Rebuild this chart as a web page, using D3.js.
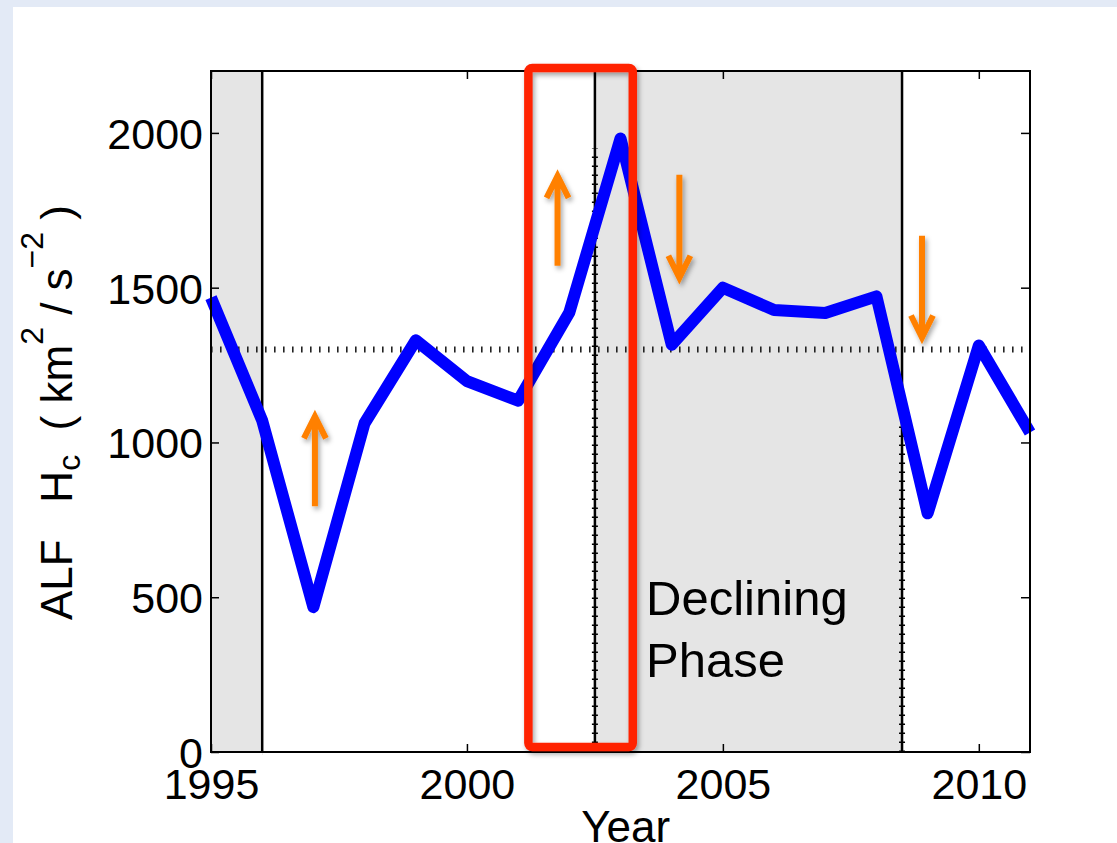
<!DOCTYPE html>
<html>
<head>
<meta charset="utf-8">
<script src="https://cdn.jsdelivr.net/npm/d3@7"></script>
<style>
  body { margin: 0; background: #e3eaf6; }
  svg { display: block; font-family: "Liberation Sans", Arial, Helvetica, sans-serif; }
</style>
</head>
<body>
<svg id="chart" width="1117" height="843"></svg>
<script>
// yearly values
const years = [1995, 1996, 1997, 1998, 1999, 2000, 2001, 2002, 2003, 2004, 2005, 2006, 2007, 2008, 2009, 2010, 2011];
const hcValues = [1468, 1071, 468, 1062, 1330, 1198, 1135, 1420, 1982, 1316, 1500, 1428, 1418, 1472, 771, 1313, 1032];

// shaded phases and the borders drawn between them
const phaseStart = [1995, 2002.5];
const phaseEnd = [1996, 2008.5];
const borderYears = [1996, 2002.5, 2008.5];
const borderDottedTop = [0, 1950, 1060];

const meanLevel = 1300;

const xTicks = [1995, 2000, 2005, 2010];
const yTicks = [0, 500, 1000, 1500, 2000];

// annotation arrows (year, from value, to value)
const arrowYear = [1997.03, 2001.77, 2004.15, 2008.89];
const arrowFrom = [794, 1571, 1865, 1668];
const arrowTo = [1084, 1861, 1532, 1339];

// highlight box in data units
const boxYears = [2001.2, 2003.24];
const boxValues = [16, 2210];

const svg = d3.select('#chart');
const margin = {left: 211, right: 87, top: 71, bottom: 91};
const width = 1117, height = 843;

let x = d3.scaleLinear().domain([1995, 2011]).range([margin.left, width - margin.right]);
let y = d3.scaleLinear().domain([0, 2200]).range([height - margin.bottom, margin.top]);

let defs = svg.append('defs');
let shadow = defs.append('filter').attr('id', 'shadow')
    .attr('x', '-50%').attr('y', '-50%').attr('width', '200%').attr('height', '200%');
shadow.append('feDropShadow')
    .attr('dx', 2).attr('dy', 3).attr('stdDeviation', 2.5)
    .attr('flood-color', '#000').attr('flood-opacity', 0.35);

// white panel
svg.append('rect').attr('x', 13).attr('y', 7)
    .attr('width', width - 13).attr('height', height - 7).attr('fill', '#fff');

let plot = svg.append('g');

plot.selectAll('.phase')
    .data(phaseStart)
    .enter()
    .append('rect')
    .attr('class', 'phase')
    .attr('x', (d) => x(d))
    .attr('width', (d, i) => x(phaseEnd[i]) - x(d))
    .attr('y', y(2200))
    .attr('height', y(0) - y(2200))
    .attr('fill', '#e5e5e5');

// dotted mean line
plot.append('line')
    .attr('x1', x(1995)).attr('x2', x(2011))
    .attr('y1', y(meanLevel)).attr('y2', y(meanLevel))
    .attr('stroke', '#222')
    .attr('stroke-width', 6)
    .attr('stroke-dasharray', '1.6,7.4');

plot.selectAll('.border')
    .data(borderYears)
    .enter()
    .append('line')
    .attr('class', 'border')
    .attr('x1', (d) => x(d)).attr('x2', (d) => x(d))
    .attr('y1', y(0)).attr('y2', y(2200))
    .attr('stroke', '#000')
    .attr('stroke-width', 2.5);

plot.selectAll('.borderDots')
    .data(borderYears)
    .enter()
    .append('line')
    .attr('class', 'borderDots')
    .attr('x1', (d) => x(d)).attr('x2', (d) => x(d))
    .attr('y1', y(0)).attr('y2', (d, i) => y(borderDottedTop[i]))
    .attr('stroke', '#000')
    .attr('stroke-width', 6)
    .attr('stroke-dasharray', '1.4,7.6');

let line = d3.line()
    .x((d, i) => x(years[i]))
    .y((d) => y(d));

plot.append('path')
    .datum(hcValues)
    .attr('d', line)
    .attr('fill', 'none')
    .attr('stroke', '#0000ff')
    .attr('stroke-width', 12)
    .attr('stroke-linejoin', 'round')
    .attr('stroke-linecap', 'butt');

// frame and ticks
let frame = svg.append('g');
frame.append('rect')
    .attr('x', x(1995)).attr('y', y(2200))
    .attr('width', x(2011) - x(1995)).attr('height', y(0) - y(2200))
    .attr('fill', 'none').attr('stroke', '#000').attr('stroke-width', 2);

let bottomAxis = d3.axisBottom(x).tickValues(xTicks).tickSize(-8).tickPadding(16).tickFormat(d3.format('d'));
let topAxis = d3.axisTop(x).tickValues(xTicks).tickSize(-8).tickFormat('');
let leftAxis = d3.axisLeft(y).tickValues(yTicks).tickSize(-8).tickPadding(8).tickFormat(d3.format('d'));
let rightAxis = d3.axisRight(y).tickValues(yTicks).tickSize(-9).tickFormat('');

function styleAxis(g, dy) {
  g.select('.domain').remove();
  g.selectAll('.tick line').attr('stroke', '#000').attr('stroke-width', 1.5);
  g.selectAll('.tick text')
      .attr('fill', '#000')
      .attr('dy', dy)
      .style('font-size', '43px')
      .style('font-family', '"Liberation Sans", Arial, sans-serif');
}

frame.append('g').attr('transform', `translate(0,${y(0)})`).call(bottomAxis).call(styleAxis, '0.71em');
frame.append('g').attr('transform', `translate(0,${y(2200)})`).call(topAxis).call(styleAxis, null);
frame.append('g').attr('transform', `translate(${x(1995)},0)`).call(leftAxis).call(styleAxis, '0.36em');
frame.append('g').attr('transform', `translate(${x(2011)},0)`).call(rightAxis).call(styleAxis, null);

// phase label
let labelX = x(2003.5);
let phaseLabel = svg.append('text')
    .attr('y', y(y.invert(615)))
    .style('font-size', '49px')
    .attr('fill', '#000');
phaseLabel.append('tspan').attr('x', labelX).text('Declining');
phaseLabel.append('tspan').attr('x', labelX).attr('dy', 62).text('Phase');

// axis titles
svg.append('text')
    .attr('x', x(2003.1))
    .attr('y', 842)
    .attr('text-anchor', 'middle')
    .style('font-size', '44px')
    .text('Year');

let yTitle = svg.append('text')
    .attr('transform', 'translate(72,620) rotate(-90)')
    .attr('text-anchor', 'start')
    .style('font-size', '44px')
    .attr('xml:space', 'preserve')
    .style('white-space', 'pre');
yTitle.append('tspan').text('ALF   H');
yTitle.append('tspan').attr('dy', 8).style('font-size', '32px').text('c');
yTitle.append('tspan').attr('dy', -8).text('  ( km');
yTitle.append('tspan').attr('dy', -29).style('font-size', '32px').text('2');
yTitle.append('tspan').attr('dy', 29).text(' / s');
yTitle.append('tspan').attr('dy', -29).style('font-size', '32px').text('\u22122');
yTitle.append('tspan').attr('dy', 29).text(' )');

// highlight box
svg.append('rect')
    .attr('x', x(boxYears[0]))
    .attr('y', y(boxValues[1]))
    .attr('width', x(boxYears[1]) - x(boxYears[0]))
    .attr('height', y(boxValues[0]) - y(boxValues[1]))
    .attr('rx', 4)
    .attr('fill', 'none')
    .attr('stroke', '#ff2200')
    .attr('stroke-width', 8.5)
    .attr('filter', 'url(#shadow)');

// arrows
svg.selectAll('.arrow')
    .data(arrowYear)
    .enter()
    .append('path')
    .attr('class', 'arrow')
    .attr('d', function(d, i) {
      let ax = x(d), y0 = y(arrowFrom[i]), y1 = y(arrowTo[i]);
      let dir = y1 < y0 ? 1 : -1;
      return `M${ax},${y0}L${ax},${y1 + dir * 2}` +
             `M${ax - 11},${y1 + dir * 22}L${ax},${y1}L${ax + 11},${y1 + dir * 22}`;
    })
    .attr('fill', 'none')
    .attr('stroke', '#ff8000')
    .attr('stroke-width', 6)
    .attr('stroke-linejoin', 'miter')
    .attr('filter', 'url(#shadow)');
</script>
</body>
</html>
